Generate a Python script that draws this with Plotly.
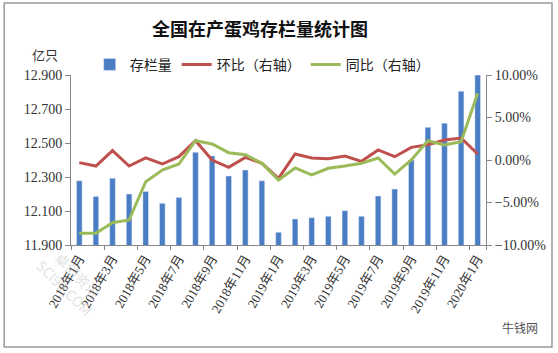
import plotly.graph_objects as go

months = [f"{y}年{m}月" for y, m in
          [(2018, m) for m in range(1, 13)] + [(2019, m) for m in range(1, 13)] + [(2020, 1)]]
stock = [12.278, 12.186, 12.292, 12.200, 12.214, 12.145, 12.180, 12.445, 12.424, 12.306,
         12.341, 12.278, 11.975, 12.053, 12.061, 12.069, 12.102, 12.069, 12.188, 12.229,
         12.400, 12.592, 12.616, 12.804, 12.900]
mom = [-0.31, -0.71, 1.10, -0.71, 0.24, -0.47, 0.39, 2.27, 0.00, -0.86, 0.31, -0.39,
       -2.16, 0.71, 0.24, 0.16, 0.47, -0.16, 1.18, 0.39, 1.49, 1.80, 2.35, 2.59, 0.71]
yoy = [-8.63, -8.63, -7.37, -7.06, -2.55, -1.18, -0.47, 2.27, 1.88, 0.86, 0.62, -0.39,
       -2.35, -0.94, -1.76, -0.98, -0.71, -0.39, 0.24, -1.65, 0.00, 2.27, 1.76, 2.16, 7.84]
mom = [v / 100 for v in mom]
yoy = [v / 100 for v in yoy]
tick_labels = months[::2]

num_font = "Liberation Serif, Noto Sans CJK SC"
cjk_font = "Noto Sans CJK SC"

fig = go.Figure()
fig.add_trace(go.Bar(x=months, y=stock, name="存栏量", marker_color="#4A7DC4",
                     yaxis="y"))
fig.add_trace(go.Scatter(x=months, y=mom, name="环比（右轴）", mode="lines",
                         line=dict(color="#C0504D", width=3), yaxis="y2"))
fig.add_trace(go.Scatter(x=months, y=yoy, name="同比（右轴）", mode="lines",
                         line=dict(color="#9BBB59", width=3), yaxis="y2"))

axis_col = "#888888"
fig.update_layout(
    width=558, height=353,
    margin=dict(l=71, r=72, t=75, b=108),
    paper_bgcolor="white", plot_bgcolor="white",
    bargap=0.66,
    showlegend=True,
    title=dict(text="<b>全国在产蛋鸡存栏量统计图</b>", x=0.466, xanchor="center",
               y=0.915, yanchor="middle",
               font=dict(family=cjk_font, size=18, color="#111111")),
    legend=dict(orientation="h", x=0.045, xanchor="left", y=1.06, yanchor="middle",
                font=dict(family=cjk_font, size=14, color="#222222"),
                bgcolor="rgba(0,0,0,0)", itemwidth=30, tracegroupgap=0),
    xaxis=dict(type="category", tickmode="array", tickvals=tick_labels, ticktext=tick_labels,
               tickson="boundaries", tickangle=-60, ticks="outside", ticklen=4,
               tickcolor=axis_col, showline=True, linecolor=axis_col, linewidth=1,
               showgrid=False, tickfont=dict(family=num_font, size=13, color="#333333")),
    yaxis=dict(range=[11.9, 12.9], dtick=0.2, tick0=11.9, tickformat=".3f",
               showline=True, linecolor=axis_col, linewidth=1, ticks="outside",
               ticklen=5, tickcolor=axis_col, showgrid=False, zeroline=False,
               tickfont=dict(family=num_font, size=14, color="#333333")),
    yaxis2=dict(range=[-0.10, 0.10], dtick=0.05, tickformat=".2%", overlaying="y",
                side="right", showline=True, linecolor=axis_col, linewidth=1,
                ticks="outside", ticklen=5, tickcolor=axis_col, showgrid=False,
                zeroline=False, tickfont=dict(family=num_font, size=14, color="#333333")),
)

fig.add_annotation(text="亿只", xref="paper", yref="paper", x=-0.062, y=1.12,
                   xanchor="center", yanchor="middle",
                   showarrow=False, font=dict(family=cjk_font, size=13, color="#333333"))
fig.add_annotation(text="牛钱网", xref="paper", yref="paper", x=1.082, y=-0.488,
                   xanchor="center", yanchor="middle",
                   showarrow=False, font=dict(family=cjk_font, size=12, color="#555555"))
fig.add_annotation(text="卓创资讯<br>SCI99.COM", xref="paper", yref="paper", x=0.0, y=-0.21,
                   xanchor="center", yanchor="middle",
                   showarrow=False, textangle=45,
                   font=dict(family=cjk_font, size=14, color="rgba(185,185,185,0.45)"))
fig.add_shape(type="rect", xref="paper", yref="paper", x0=-0.161, x1=1.159, y0=-0.6, y1=1.4235,
              line=dict(color="#999999", width=1.5), fillcolor="rgba(0,0,0,0)", layer="below")

fig.write_html("out.html")
